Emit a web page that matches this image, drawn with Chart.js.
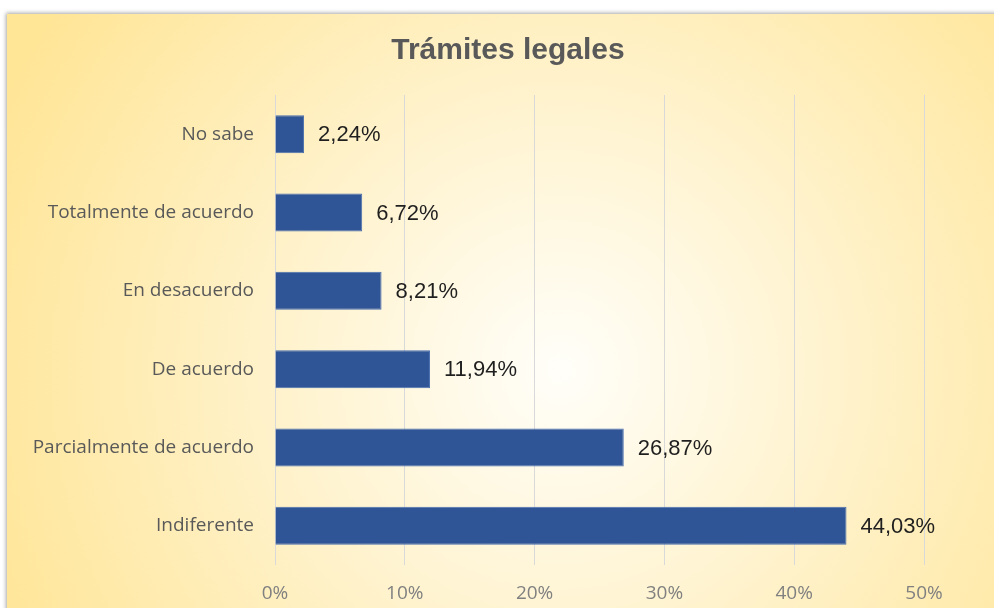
<!DOCTYPE html>
<html>
<head>
<meta charset="utf-8">
<script src="https://cdn.jsdelivr.net/npm/chart.js@4"></script>
<style>
html,body{margin:0;padding:0;background:#fff;}
#wrap{width:994px;height:608px;position:relative;}
</style>
</head>
<body>
<div id="wrap"><canvas id="c" width="994" height="608"></canvas></div>
<script>
const chartTitle = 'Trámites legales';
const categories = ['No sabe', 'Totalmente de acuerdo', 'En desacuerdo', 'De acuerdo', 'Parcialmente de acuerdo', 'Indiferente'];
const values = [2.24, 6.72, 8.21, 11.94, 26.87, 44.03];
const xTicks = [0, 10, 20, 30, 40, 50];

const fmt = v => v.toFixed(2).replace('.', ',') + '%';

const bgPlugin = {
  id: 'bg',
  beforeDraw(chart) {
    const ctx = chart.ctx, w = chart.width, h = chart.height;
    ctx.save();
    ctx.fillStyle = '#ffffff';
    ctx.fillRect(0, 0, w, h);
    ctx.shadowColor = 'rgba(0,0,0,0.35)';
    ctx.shadowBlur = 4;
    ctx.shadowOffsetX = -1;
    ctx.shadowOffsetY = -1;
    ctx.fillStyle = '#ffe699';
    ctx.fillRect(7, 14, w, h);
    ctx.shadowColor = 'transparent';
    const g = ctx.createRadialGradient(560, 370, 0, 560, 370, 620);
    g.addColorStop(0, '#fffef9');
    g.addColorStop(0.4, '#fff4d2');
    g.addColorStop(1, '#ffe596');
    ctx.fillStyle = g;
    ctx.fillRect(7, 14, w, h);
    ctx.restore();
  }
};

const titlePlugin = {
  id: 'ctitle',
  afterDraw(chart) {
    const ctx = chart.ctx;
    ctx.save();
    ctx.font = 'bold 30px "Liberation Sans", Arial, sans-serif';
    ctx.fillStyle = '#595959';
    ctx.textAlign = 'center';
    ctx.textBaseline = 'middle';
    ctx.fillText(chartTitle, 508, 51);
    ctx.restore();
  }
};

const labelPlugin = {
  id: 'vlabels',
  afterDatasetsDraw(chart) {
    const ctx = chart.ctx;
    const meta = chart.getDatasetMeta(0);
    ctx.save();
    ctx.font = '22px "Liberation Sans", Arial, sans-serif';
    ctx.fillStyle = '#1f1f1f';
    ctx.textAlign = 'left';
    ctx.textBaseline = 'middle';
    meta.data.forEach((el, i) => {
      ctx.fillText(fmt(values[i]), el.x + 14, el.y + 1);
    });
    ctx.restore();
  }
};

new Chart(document.getElementById('c'), {
  type: 'bar',
  data: {
    labels: categories,
    datasets: [{
      data: values,
      backgroundColor: '#2f5597',
      borderColor: '#4a6fae',
      borderWidth: 1,
      barPercentage: 0.485,
      categoryPercentage: 1
    }]
  },
  options: {
    indexAxis: 'y',
    responsive: false,
    animation: false,
    layout: { padding: { left: 0, right: 70, top: 95, bottom: 0 } },
    plugins: {
      legend: { display: false },
      tooltip: { enabled: false },
      title: { display: false }
    },
    scales: {
      x: {
        min: 0, max: 50,
        afterBuildTicks(scale) { scale.ticks = xTicks.map(v => ({ value: v })); },
        afterFit(scale) { scale.height = 43; },
        grid: { color: '#d9d9d9', lineWidth: 1, drawTicks: false },
        border: { display: false },
        ticks: {
          padding: 17,
          color: '#808080',
          font: { family: '"Open Sans", sans-serif', size: 19 },
          callback: v => v + '%'
        }
      },
      y: {
        afterFit(scale) { scale.width = 275; },
        grid: { display: false, drawTicks: false },
        border: { display: false },
        ticks: {
          padding: 21,
          color: '#595959',
          font: { family: '"Open Sans", sans-serif', size: 19 }
        }
      }
    }
  },
  plugins: [bgPlugin, labelPlugin, titlePlugin]
});
</script>
</body>
</html>
